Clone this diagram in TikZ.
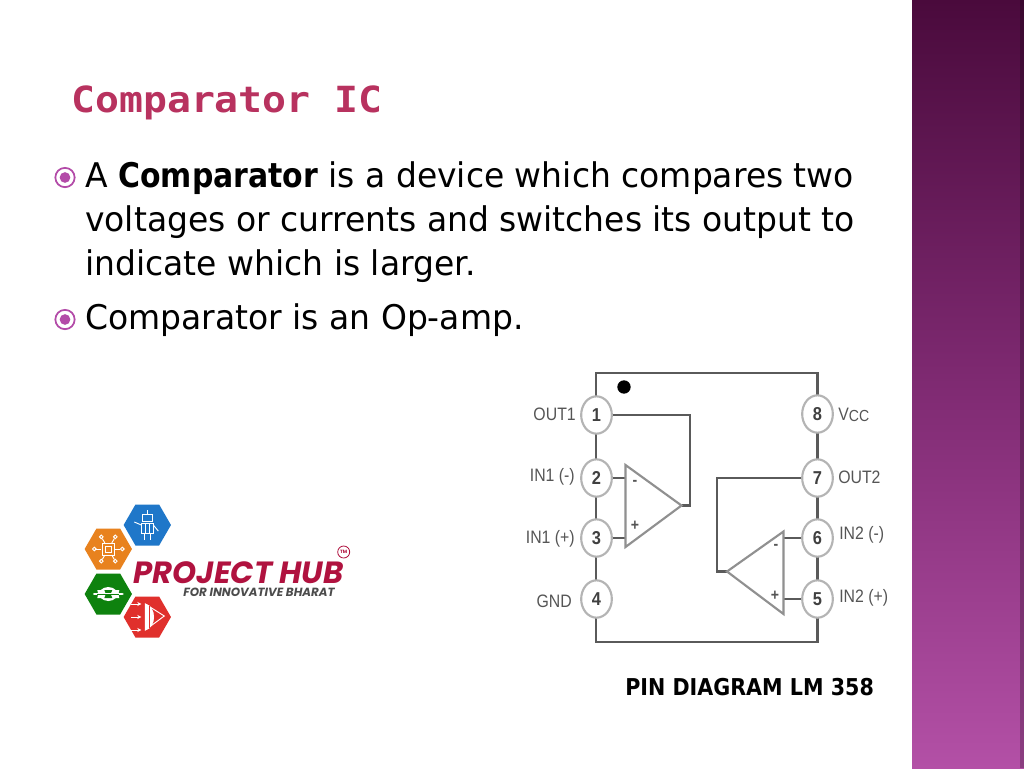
\documentclass[tikz,border=0pt]{standalone}
\usepackage{fontspec}
\setmainfont{DejaVu Sans}[FakeStretch=0.97]
\newfontfamily\boldfam{DejaVu Sans Bold}[FakeStretch=0.88]
\newfontfamily\capfam{DejaVu Sans Bold}[FakeStretch=0.89]
\newfontfamily\titlefont{DejaVu Sans Mono Bold}[FakeStretch=1.105]
\newfontfamily\logofont{Poppins}
\newfontfamily\pinfont{Liberation Sans}[FakeStretch=0.88]
\usetikzlibrary{shapes.geometric,calc,arrows.meta}
\definecolor{sidetop}{HTML}{4A0A3C}
\definecolor{sidemid}{HTML}{7F2A72}
\definecolor{sidebot}{HTML}{B350A6}
\definecolor{accent}{HTML}{B34BA8}
\definecolor{titlecol}{HTML}{B8325F}
\definecolor{wire}{HTML}{5A5A5A}
\definecolor{pinring}{HTML}{B4B4B4}
\definecolor{pintext}{HTML}{555555}
\definecolor{crimson}{HTML}{B0123F}
\definecolor{hexblue}{HTML}{1F77C9}
\definecolor{hexorange}{HTML}{E8821E}
\definecolor{hexgreen}{HTML}{0E820E}
\definecolor{hexred}{HTML}{E0302C}
\tikzset{
  x=0.75pt,y=-0.75pt,
  body/.style={font=\fontsize{25.5pt}{30pt}\selectfont,anchor=base west,inner sep=0pt,text=black},
  ringbullet/.style={circle,draw=accent,line width=1.3pt,fill=white,minimum size=14.5pt,inner sep=0pt},
  bulletdot/.style={circle,fill=accent,minimum size=8pt,inner sep=0pt},
  pin/.style={ellipse,draw=pinring,line width=1.6pt,fill=white,minimum width=23pt,minimum height=28pt,inner sep=0pt,
     font=\pinfont\bfseries\fontsize{14pt}{15pt}\selectfont,text=black!75},
  pinlabel/.style={font=\pinfont\fontsize{13.5pt}{15pt}\selectfont,text=pintext,inner sep=0pt},
  wireline/.style={draw=wire,line width=1.6pt},
  amp/.style={draw=pinring!80!black,line width=1.6pt,fill=white,line join=miter},
  hexa/.style={regular polygon,regular polygon sides=6,minimum size=35.5pt,inner sep=0pt},
  iconline/.style={draw=white,line width=0.7pt},
  ampsign/.style={font=\pinfont\bfseries\fontsize{12pt}{13pt}\selectfont,text=pintext,inner sep=0pt},
}
\begin{document}
\begin{tikzpicture}
\useasboundingbox (0,0) rectangle (1024,768);
\fill[white] (0,0) rectangle (1024,768);
% sidebar
\path[top color=sidetop,bottom color=sidemid] (912,0) rectangle (1024,384);
\path[top color=sidemid,bottom color=sidebot] (912,384) rectangle (1024,768);
\fill[black,opacity=0.22] (1020,0) rectangle (1024,768);
% title
\node[anchor=base west,inner sep=0pt,text=titlecol,font=\titlefont\fontsize{27pt}{30pt}\selectfont] (title) at (71,112) {Comparator IC};
% bullets
\node[ringbullet] (b1) at (65,177.5) {};
\node[bulletdot] (b1d) at (65,177.5) {};
\node[ringbullet] (b2) at (65,319.5) {};
\node[bulletdot] (b2d) at (65,319.5) {};
% body text
\node[body] (l1) at (85,187.5) {A {\boldfam Comparator} is a device which compares two};
\node[body] (l2) at (85,231) {voltages or currents and switches its output to};
\node[body] (l3) at (85,275) {indicate which is larger.};
\node[body] (l4) at (85,329.5) {Comparator is an Op-amp.};
% IC
\coordinate (tl) at (596,373);
\coordinate (tr) at (817.5,373);
\coordinate (bl) at (596,642);
\coordinate (br) at (817.5,642);
\draw[wireline] (tl) -- (tr) -- (br) -- (bl) -- cycle;
\node[circle,fill=black,minimum size=10pt,inner sep=0pt] (dot) at (624,387) {};
\node[pin] (p1) at (596.5,415) {1};
\node[pin] (p2) at (596.5,478) {2};
\node[pin] (p3) at (596.5,538) {3};
\node[pin] (p4) at (596.5,599) {4};
\node[pin] (p8) at (817.5,414) {8};
\node[pin] (p7) at (817.5,478) {7};
\node[pin] (p6) at (817.5,538) {6};
\node[pin] (p5) at (817.5,599) {5};
\node[pinlabel,anchor=east] (o1) at (576,414) {OUT1};
\node[pinlabel,anchor=east] (i1m) at (575,477) {IN1 (-)};
\node[pinlabel,anchor=east] (i1p) at (575,539) {IN1 (+)};
\node[pinlabel,anchor=east] (gnd) at (572,601) {GND};
\node[pinlabel,anchor=west] (vcc) at (838,415) {V\raisebox{-1pt}{\fontsize{12pt}{13pt}\selectfont CC}};
\node[pinlabel,anchor=west] (o2) at (838,477) {OUT2};
\node[pinlabel,anchor=west] (i2m) at (839,535) {IN2 (-)};
\node[pinlabel,anchor=west] (i2p) at (839,598) {IN2 (+)};
% op-amp 1
\coordinate (a1t) at (625.5,465);
\coordinate (a1b) at (625.5,547);
\coordinate (a1o) at (681.5,505.5);
\coordinate (a1x) at (690,505.5);
\draw[wireline] (p1.east) -- (p1.east -| a1x) -- (a1x) -- (a1o);
\draw[wireline] (p2.east) -- (p2.east -| a1t);
\draw[wireline] (p3.east) -- (p3.east -| a1t);
\draw[amp] (a1t) -- (a1o) -- (a1b) -- cycle;
\node[ampsign] (a1m) at (635,483) {-};
\node[ampsign] (a1p) at (635,526) {+};
% op-amp 2
\coordinate (a2t) at (783.5,531.5);
\coordinate (a2b) at (783.5,614);
\coordinate (a2o) at (727,571.5);
\coordinate (a2x) at (717,571.5);
\draw[wireline] (p7.west) -- (p7.west -| a2x) -- (a2x) -- (a2o);
\draw[wireline] (p6.west) -- (p6.west -| a2t);
\draw[wireline] (p5.west) -- (p5.west -| a2t);
\draw[amp] (a2t) -- (a2o) -- (a2b) -- cycle;
\node[ampsign] (a2m) at (776,547) {-};
\node[ampsign] (a2p) at (775,596) {+};
% caption
\node[anchor=base west,inner sep=0pt,font=\capfam\fontsize{17.4pt}{20pt}\selectfont] (cap) at (625,695) {PIN DIAGRAM LM 358};
% logo hexagons
\node[hexa,fill=hexblue] (hb) at (147.3,525) {};
\node[hexa,fill=hexorange] (ho) at (108.3,549) {};
\node[hexa,fill=hexgreen] (hg) at (108.3,594) {};
\node[hexa,fill=hexred] (hr) at (147.3,617) {};
% robot icon
\draw[iconline] ($(hb)+(-5,-11)$) rectangle ($(hb)+(5,-4)$);
\draw[iconline] ($(hb)+(-6,-2)$) rectangle ($(hb)+(6,8)$);
\draw[iconline] ($(hb)+(-2,-2)$) -- ($(hb)+(-2,8)$) ($(hb)+(2,-2)$) -- ($(hb)+(2,8)$);
\draw[iconline] ($(hb)+(-6,0)$) -- ($(hb)+(-13,-3)$);
\draw[iconline] ($(hb)+(6,0)$) -- ($(hb)+(11,6)$);
\draw[iconline] ($(hb)+(-3,8)$) -- ($(hb)+(-3,15)$);
\draw[iconline] ($(hb)+(3,8)$) -- ($(hb)+(3,15)$);
\draw[iconline] ($(hb)+(0,-11)$) -- ($(hb)+(0,-15)$);
% chip icon
\draw[iconline] ($(ho)+(-6,-6)$) rectangle ($(ho)+(6,6)$);
\draw[iconline] ($(ho)+(-3,-3)$) rectangle ($(ho)+(3,3)$);
\foreach \a in {0,60,120,180,240,300}{
  \draw[iconline] ($(ho)+(\a:7)$) -- ($(ho)+(\a:12)$);
  \draw[iconline] ($(ho)+(\a:14)$) circle (1.8);
}
% gear icon
\fill[white] ($(hg)+(-11,-4)$) arc (180:0:11) -- cycle;
\fill[white] ($(hg)+(-11,4)$) arc (180:360:11) -- cycle;
\fill[hexgreen] ($(hg)+(-4,-4)$) arc (180:0:4) -- cycle;
\fill[hexgreen] ($(hg)+(-4,4)$) arc (180:360:4) -- cycle;
\draw[draw=white,line width=2.2pt,line cap=round] ($(hg)+(-14,0)$) -- ($(hg)+(14,0)$);
\draw[draw=hexgreen,line width=0.5pt] ($(hg)+(-11,0)$) -- ($(hg)+(11,0)$);
% bow icon
\draw[iconline,fill=white] ($(hr)+(-2,-13)$) .. controls ($(hr)+(9,-10)$) and ($(hr)+(9,10)$) .. ($(hr)+(-2,13)$) -- cycle;
\draw[iconline] ($(hr)+(-2,-13)$) -- ($(hr)+(17,-1)$) -- ($(hr)+(-2,13)$);
\draw[hexred,line width=0.6pt] ($(hr)+(2,-11)$) -- ($(hr)+(2,11)$);
\foreach \y in {-13,0,13}{
  \draw[iconline,-{Stealth[length=3pt,width=3pt]}] ($(hr)+(-16,\y)$) -- ($(hr)+(-6,\y)$);
}
% logo text
\node[anchor=base west,inner sep=0pt,text=crimson,font=\logofont\bfseries\itshape\fontsize{23pt}{24pt}\selectfont] (lt) at (133,583) {PROJECT HUB};
\node[anchor=base west,inner sep=0pt,text=black!70,font=\logofont\bfseries\itshape\fontsize{8.9pt}{10pt}\selectfont] (ls) at (183,596) {FOR INNOVATIVE BHARAT};
\node[circle,draw=crimson,line width=0.6pt,minimum size=9pt,inner sep=0pt,text=crimson,font=\logofont\bfseries\fontsize{3.5pt}{4pt}\selectfont] (tm) at (343.7,552) {TM};
\end{tikzpicture}
\end{document}
